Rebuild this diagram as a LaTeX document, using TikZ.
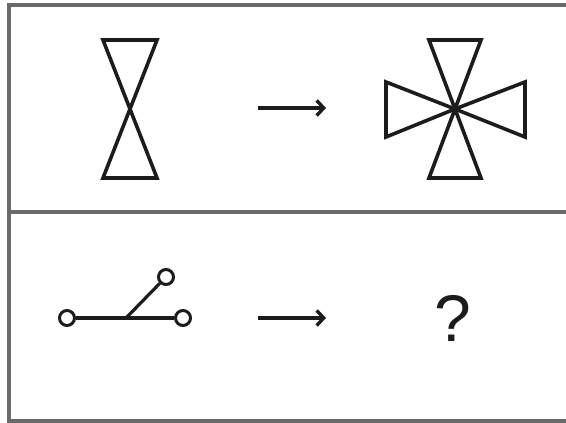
\documentclass[tikz,border=0pt]{standalone}
\usepackage{fontspec}
\setmainfont{Liberation Sans}
\usetikzlibrary{arrows.meta}
\definecolor{framegray}{HTML}{6A6A6A}
\definecolor{ink}{HTML}{1C1C1C}
\tikzset{
  frameline/.style={draw=framegray, line width=3.4pt},
  figline/.style={draw=ink, line width=3.6pt, line join=miter},
  link/.style={draw=ink, line width=3.2pt},
  ring/.style={circle, draw=ink, line width=3pt, minimum size=15pt, inner sep=0pt, fill=white},
  goesto/.style={draw=ink, line width=3.4pt, -{Straight Barb[length=7pt, width=15pt, line width=3.4pt]}}
}
\begin{document}
\begin{tikzpicture}[x=1pt, y=-1pt]
\useasboundingbox (0,0) rectangle (566,423);
\fill[white] (0,0) rectangle (566,423);
% frame
\draw[frameline] (570,5) -- (9,5) -- (9,421) -- (570,421);
\draw[frameline] (9,212) -- (570,212);
% hourglass
\draw[figline] (103,40) -- (157,40) -- (103,178) -- (157,178) -- cycle;
% cross of four triangles
\coordinate (c) at (455,109);
\draw[figline] (c) -- (429,40) -- (481,40) -- cycle;
\draw[figline] (c) -- (429,178) -- (481,178) -- cycle;
\draw[figline] (c) -- (386,82) -- (386,137) -- cycle;
\draw[figline] (c) -- (525,82) -- (525,137) -- cycle;
% top arrow
\coordinate (a1) at (258,108);
\coordinate (a2) at (326,108);
\draw[goesto] (a1) -- (a2);
% bottom figure
\node[ring] (l) at (67,318) {};
\node[ring] (r) at (183,318) {};
\node[ring] (u) at (166,277) {};
\coordinate (j) at (126,318);
\draw[link] (l) -- (r);
\draw[link] (j) -- (u);
% bottom arrow
\coordinate (b1) at (258,318);
\coordinate (b2) at (326,318);
\draw[goesto] (b1) -- (b2);
% question mark
\node[font=\fontsize{66}{66}\selectfont, text=ink, inner sep=0pt] (q) at (453,318) {?};
\end{tikzpicture}
\end{document}
